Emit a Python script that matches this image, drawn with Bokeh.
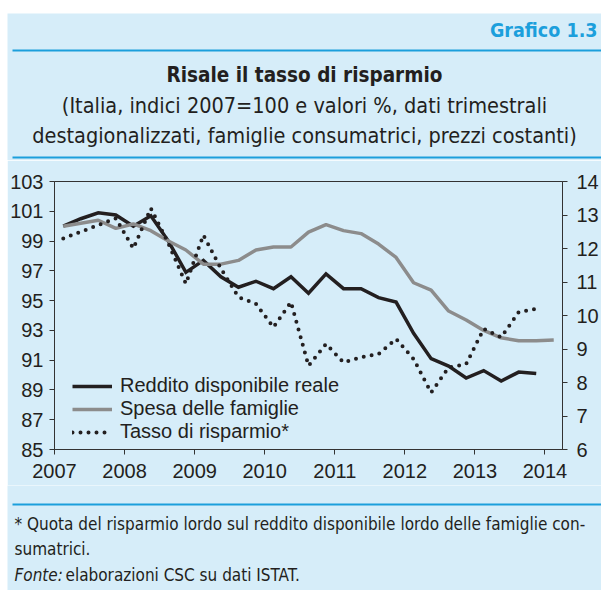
from bokeh.plotting import figure
from bokeh.models import Range1d, LinearAxis, FixedTicker, Legend, LegendItem, ColumnDataSource
from bokeh.layouts import column
from bokeh.embed import file_html
from bokeh.resources import INLINE
from bokeh.core.properties import value

# ---------------- data ----------------
quarters = ["2007Q1", "2007Q2", "2007Q3", "2007Q4",
            "2008Q1", "2008Q2", "2008Q3", "2008Q4",
            "2009Q1", "2009Q2", "2009Q3", "2009Q4",
            "2010Q1", "2010Q2", "2010Q3", "2010Q4",
            "2011Q1", "2011Q2", "2011Q3", "2011Q4",
            "2012Q1", "2012Q2", "2012Q3", "2012Q4",
            "2013Q1", "2013Q2", "2013Q3", "2013Q4",
            "2014Q1"]

reddito = [100.0, 100.5, 100.9, 100.75,
           100.0, 100.7, 99.0, 96.9,
           97.7, 96.6, 95.9, 96.3,
           95.8, 96.6, 95.5, 96.8,
           95.8, 95.8, 95.2, 94.9,
           92.8, 91.1, 90.6, 89.8,
           90.3, 89.6, 90.2, 90.1]

spesa = [100.0, 100.2, 100.4, 99.85,
         100.15, 99.7, 99.0, 98.4,
         97.45, 97.45, 97.7, 98.4,
         98.6, 98.6, 99.6, 100.1,
         99.7, 99.5, 98.8, 97.9,
         96.2, 95.7, 94.3, 93.7,
         93.0, 92.5, 92.3, 92.3,
         92.35]

tasso = [12.3, 12.5, 12.7, 12.9,
         12.0, 13.2, 12.15, 10.95,
         12.4, 11.4, 10.55, 10.35,
         9.65, 10.4, 8.5, 9.15,
         8.6, 8.75, 8.85, 9.3,
         8.7, 7.7, 8.45, 8.55,
         9.6, 9.35, 10.1, 10.2]

series_names = ["Reddito disponibile reale", "Spesa delle famiglie", "Tasso di risparmio*"]
year_ticks = [2007, 2008, 2009, 2010, 2011, 2012, 2013, 2014]
year_labels = ["2007", "2008", "2009", "2010", "2011", "2012", "2013", "2014"]
left_ticks = [85, 87, 89, 91, 93, 95, 97, 99, 101, 103]
right_ticks = [6, 7, 8, 9, 10, 11, 12, 13, 14]

header_label = "Grafico 1.3"
title = "Risale il tasso di risparmio"
subtitle = ["(Italia, indici 2007=100 e valori %, dati trimestrali",
            "destagionalizzati, famiglie consumatrici, prezzi costanti)"]
note = "* Quota del risparmio lordo sul reddito disponibile lordo delle famiglie con-"
note2 = "sumatrici."
source_it = "Fonte:"
source_rest = "elaborazioni CSC su dati ISTAT."

# ---------------- style ----------------
BG = "#d6edf9"
CYAN = "#1c9fdc"
INK = "#231f20"
GREY = "#8c8c8c"
NARROW = "DejaVu Sans Condensed, Roboto, sans-serif"
SANS = "Liberation Sans"
W = 594


def qx(label):
    return int(label[:4]) + (int(label[5]) - 0.5) / 4.0


xs = [qx(q) for q in quarters]


def no_align(f):
    try:
        f.frame_align = False
    except Exception:
        pass


# ---------------- header ----------------
HH = 147
head = figure(width=W, height=HH, x_range=Range1d(0, W), y_range=Range1d(HH, 0),
              x_axis_type=None, y_axis_type=None, toolbar_location=None,
              output_backend="svg", min_border=0, background_fill_color=BG,
              border_fill_color=BG, outline_line_color=None)
no_align(head)
head.xgrid.visible = False
head.ygrid.visible = False
head.segment(x0=[5, 5], y0=[37, 144], x1=[W, W], y1=[37, 144], line_color=CYAN, line_width=2)
head.text(x=[590], y=[17], text=[header_label], text_font=value(NARROW), text_font_style="bold",
          text_font_size="19.5px", text_color=CYAN, text_align="right", text_baseline="middle")
head.text(x=[297], y=[61], text=[title], text_font=value(NARROW), text_font_style="bold",
          text_font_size="20.5px", text_color=INK, text_align="center", text_baseline="middle")
head.text(x=[297, 297], y=[92, 122], text=subtitle, text_font=value(NARROW),
          text_font_size="21.5px", text_color=INK, text_align="center", text_baseline="middle")

# ---------------- chart ----------------
p = figure(width=W, height=325, x_range=Range1d(2007, 2014.25), y_range=Range1d(85, 103),
           toolbar_location=None, output_backend="svg",
           min_border_left=47, min_border_right=38, min_border_top=21, min_border_bottom=36,
           background_fill_color=BG, border_fill_color=BG)
no_align(p)
p.outline_line_color = "#333333"
p.outline_line_width = 1
p.xgrid.visible = False
p.ygrid.visible = False
p.extra_y_ranges = {"rate": Range1d(6, 14)}

src_main = ColumnDataSource(dict(x=xs[:len(reddito)], r=reddito, t=tasso))
src_sp = ColumnDataSource(dict(x=xs[:len(spesa)], s=spesa))

r1 = p.line("x", "r", source=src_main, line_color=INK, line_width=3.5, line_join="miter")
r2 = p.line("x", "s", source=src_sp, line_color=GREY, line_width=3.5)
r3 = p.line("x", "t", source=src_main, y_range_name="rate", line_color=INK, line_width=4,
            line_dash="0 8", line_cap="round")


def style_axis(ax):
    ax.major_tick_out = 5
    ax.major_tick_in = 0
    ax.minor_tick_out = 0
    ax.minor_tick_in = 0
    ax.axis_line_color = "#333333"
    ax.major_tick_line_color = "#333333"
    ax.major_label_text_font = SANS
    ax.major_label_text_font_size = "20px"
    ax.major_label_text_color = INK


p.xaxis.ticker = FixedTicker(ticks=year_ticks)
p.xaxis.major_label_overrides = {t: l for t, l in zip(year_ticks, year_labels)}
p.xaxis.major_label_standoff = 9
p.yaxis.ticker = FixedTicker(ticks=left_ticks)
p.yaxis.major_label_standoff = 6
style_axis(p.xaxis[0])
style_axis(p.yaxis[0])

ra = LinearAxis(y_range_name="rate", ticker=FixedTicker(ticks=right_ticks))
style_axis(ra)
ra.major_label_standoff = 9
p.add_layout(ra, "right")

legend = Legend(items=[LegendItem(label=series_names[0], renderers=[r1]),
                       LegendItem(label=series_names[1], renderers=[r2]),
                       LegendItem(label=series_names[2], renderers=[r3])],
                location=(18, 6), padding=0, margin=0, spacing=0,
                glyph_width=40, glyph_height=22, label_height=22, label_standoff=8,
                label_text_font=SANS, label_text_font_size="20px", label_text_color=INK,
                background_fill_alpha=0, border_line_color=None)
p.add_layout(legend, "center")

# ---------------- footer ----------------
FH = 105
foot = figure(width=W, height=FH, x_range=Range1d(0, W), y_range=Range1d(FH, 0),
              x_axis_type=None, y_axis_type=None, toolbar_location=None,
              output_backend="svg", min_border=0, background_fill_color=BG,
              border_fill_color=BG, outline_line_color=None)
no_align(foot)
foot.xgrid.visible = False
foot.ygrid.visible = False
foot.segment(x0=[5], y0=[19], x1=[W], y1=[19], line_color=CYAN, line_width=2)
foot.text(x=[7, 7], y=[38, 63], text=[note, note2], text_font=value(NARROW),
          text_font_size="17px", text_color=INK, text_align="left", text_baseline="middle")
foot.text(x=[7], y=[89], text=[source_it], text_font=value(NARROW), text_font_style="italic",
          text_font_size="17px", text_color=INK, text_align="left", text_baseline="middle")
foot.text(x=[58], y=[89], text=[source_rest], text_font=value(NARROW),
          text_font_size="17px", text_color=INK, text_align="left", text_baseline="middle")

layout = column(column(head), p, column(foot), spacing=0, margin=(13, 0, 0, 7))
open("out.html", "w").write(file_html(layout, INLINE))
